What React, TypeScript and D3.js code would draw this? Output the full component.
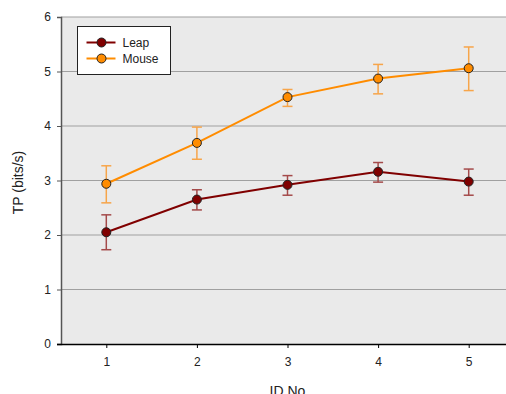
import { useRef, useEffect } from 'react';
import * as d3 from 'd3';

const ids = [1, 2, 3, 4, 5];
const leapMean = [2.05, 2.65, 2.92, 3.16, 2.98];
const leapLow = [1.73, 2.46, 2.73, 2.97, 2.73];
const leapHigh = [2.37, 2.83, 3.09, 3.33, 3.21];
const mouseMean = [2.94, 3.69, 4.53, 4.87, 5.06];
const mouseLow = [2.59, 3.39, 4.36, 4.59, 4.65];
const mouseHigh = [3.27, 3.98, 4.67, 5.13, 5.45];
const yTicks = [0, 1, 2, 3, 4, 5, 6];

export default function App() {
    const svgRef = useRef<SVGSVGElement>(null);

    useEffect(() => {
        if (!svgRef.current) return;
        const width = 506;
        const height = 394;
        const margin = { top: 17, left: 61, bottom: 50 };
        const plotRight = 514;

        d3.select(svgRef.current).selectAll('*').remove();
        const svg = d3.select(svgRef.current)
            .attr('width', width)
            .attr('height', height)
            .style('font-family', '"Liberation Sans", Arial, sans-serif');

        const x = d3.scaleLinear().domain([0.5, 5.5]).range([margin.left, plotRight]);
        const y = d3.scaleLinear().domain([0, 6]).range([height - margin.bottom, margin.top]);

        // Plot background
        svg.append('rect')
            .attr('x', margin.left)
            .attr('y', y(6))
            .attr('width', plotRight - margin.left)
            .attr('height', y(0) - y(6))
            .attr('fill', '#eaeaea');

        // Grid lines
        svg.append('g')
            .selectAll('line')
            .data(yTicks.filter(d => d > 0))
            .enter()
            .append('line')
            .attr('x1', margin.left)
            .attr('x2', plotRight)
            .attr('y1', d => y(d))
            .attr('y2', d => y(d))
            .attr('stroke', '#a0a0a0')
            .attr('stroke-width', 1.2);

        // Y axis
        const yAxis = svg.append('g')
            .attr('transform', `translate(${margin.left},0)`)
            .call(d3.axisLeft(y).tickValues(yTicks).tickSize(4).tickPadding(6).tickFormat(d3.format('d')));
        yAxis.select('.domain').attr('stroke', '#555').attr('stroke-width', 1.5);
        yAxis.selectAll('.tick line').attr('stroke', '#555');
        yAxis.selectAll('text').attr('fill', '#222').style('font-size', '12px');

        // X axis
        const xAxis = svg.append('g')
            .attr('transform', `translate(0,${y(0)})`)
            .call(d3.axisBottom(x).tickValues(ids).tickSize(4).tickPadding(9).tickFormat(d3.format('d')));
        xAxis.select('.domain').attr('d', `M${margin.left - 4},0.5H${plotRight}`).attr('stroke', '#000').attr('stroke-width', 1.3);
        xAxis.selectAll('.tick line').attr('stroke', '#000');
        xAxis.selectAll('text').attr('fill', '#222').style('font-size', '12px');

        // Axis titles
        svg.append('text')
            .attr('x', x(3))
            .attr('y', 396)
            .attr('text-anchor', 'middle')
            .attr('fill', '#222')
            .style('font-size', '14px')
            .text('ID No');

        svg.append('text')
            .attr('transform', `translate(23,${(y(0) + y(6)) / 2 + 2}) rotate(-90)`)
            .attr('text-anchor', 'middle')
            .attr('fill', '#222')
            .style('font-size', '14px')
            .text('TP (bits/s)');

        const series = [
            { name: 'Leap', mean: leapMean, low: leapLow, high: leapHigh, color: '#800000', err: '#a44a4a' },
            { name: 'Mouse', mean: mouseMean, low: mouseLow, high: mouseHigh, color: '#ff8c00', err: '#f7a54a' },
        ];

        const line = d3.line<number>()
            .x((_, i) => x(ids[i]))
            .y(d => y(d));

        series.forEach(s => {
            const g = svg.append('g');
            // error bars
            ids.forEach((id, i) => {
                const cx = x(id);
                g.append('line')
                    .attr('x1', cx).attr('x2', cx)
                    .attr('y1', y(s.low[i])).attr('y2', y(s.high[i]))
                    .attr('stroke', s.err).attr('stroke-width', 1.5);
                [s.low[i], s.high[i]].forEach(v => {
                    g.append('line')
                        .attr('x1', cx - 5).attr('x2', cx + 5)
                        .attr('y1', y(v)).attr('y2', y(v))
                        .attr('stroke', s.err).attr('stroke-width', 1.5);
                });
            });
            g.append('path')
                .datum(s.mean)
                .attr('fill', 'none')
                .attr('stroke', s.color)
                .attr('stroke-width', 2)
                .attr('d', line);
            g.selectAll('circle')
                .data(s.mean)
                .enter()
                .append('circle')
                .attr('cx', (_, i) => x(ids[i]))
                .attr('cy', d => y(d))
                .attr('r', 4.5)
                .attr('fill', s.color)
                .attr('stroke', '#222')
                .attr('stroke-width', 1);
        });

        // Legend
        const legend = svg.append('g').attr('transform', 'translate(77.5,26.5)');
        legend.append('rect')
            .attr('width', 93)
            .attr('height', 48)
            .attr('fill', '#fff')
            .attr('stroke', '#222')
            .attr('stroke-width', 1);
        series.forEach((s, i) => {
            const ly = 16 + i * 16;
            legend.append('line')
                .attr('x1', 9).attr('x2', 38)
                .attr('y1', ly).attr('y2', ly)
                .attr('stroke', s.color).attr('stroke-width', 2);
            legend.append('circle')
                .attr('cx', 24).attr('cy', ly).attr('r', 4.5)
                .attr('fill', s.color).attr('stroke', '#222');
            legend.append('text')
                .attr('x', 45).attr('y', ly + 4.5)
                .attr('fill', '#222')
                .style('font-size', '12px')
                .text(s.name);
        });
    }, []);

    return (
        <svg ref={svgRef} style={{ position: 'absolute', left: 0, top: 0 }}></svg>
    );
}
